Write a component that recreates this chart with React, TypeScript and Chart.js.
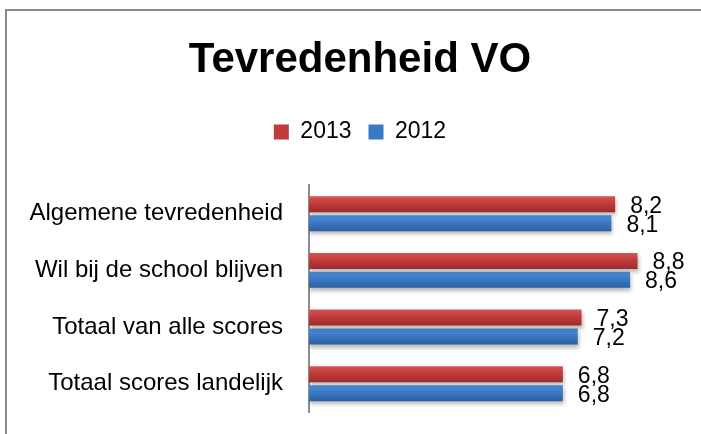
import React, { useEffect, useRef } from "react";
import { Chart, registerables } from "chart.js";

Chart.register(...registerables);

const categories = [
  "Algemene tevredenheid",
  "Wil bij de school blijven",
  "Totaal van alle scores",
  "Totaal scores landelijk",
];
const seriesNames = ["2013", "2012"];
const values2013 = [8.2, 8.8, 7.3, 6.8];
const values2012 = [8.1, 8.6, 7.2, 6.8];

const CAT_PCT = 0.67;
const BAR_PCT = 0.842;

const palettes = [
  { top: "#d65452", mid: "#c23b3b", bottom: "#9c2b2b", solid: "#c23b3b" },
  { top: "#4f8fd9", mid: "#3b79c6", bottom: "#2d5f9f", solid: "#3b79c6" },
];

function barGradient(ctx: any) {
  const chart = ctx.chart;
  const pal = palettes[ctx.datasetIndex] || palettes[0];
  const area = chart.chartArea;
  const yScale = chart.scales && chart.scales.y;
  if (!area || !yScale || ctx.dataIndex === undefined) return pal.solid;
  const catH = (area.bottom - area.top) / categories.length;
  const slot = (catH * CAT_PCT) / 2;
  const th = slot * BAR_PCT;
  const center = yScale.getPixelForValue(ctx.dataIndex) + (ctx.datasetIndex === 0 ? -slot / 2 : slot / 2);
  const y0 = center - th / 2;
  const y1 = center + th / 2;
  if (!isFinite(y0) || !isFinite(y1)) return pal.solid;
  const g = chart.ctx.createLinearGradient(0, y0, 0, y1);
  g.addColorStop(0, pal.top);
  g.addColorStop(0.45, pal.mid);
  g.addColorStop(1, pal.bottom);
  return g;
}

const shadowPlugin = {
  id: "barShadow",
  beforeDatasetsDraw(chart: any) {
    const c = chart.ctx;
    c.save();
    c.shadowColor = "rgba(0,0,0,0.28)";
    c.shadowBlur = 4;
    c.shadowOffsetX = 1;
    c.shadowOffsetY = 3;
  },
  afterDatasetsDraw(chart: any) {
    chart.ctx.restore();
  },
};

const labelPlugin = {
  id: "valueLabels",
  afterDraw(chart: any) {
    const c = chart.ctx;
    c.save();
    c.font = "23px 'Liberation Sans', Arial, sans-serif";
    c.fillStyle = "#000";
    c.textAlign = "left";
    c.textBaseline = "middle";
    chart.data.datasets.forEach((ds: any, di: number) => {
      const meta = chart.getDatasetMeta(di);
      meta.data.forEach((bar: any, i: number) => {
        const v = ds.data[i];
        const txt = String(v.toFixed(1)).replace(".", ",");
        c.fillText(txt, bar.x + 15, bar.y + 2);
      });
    });
    c.restore();
  },
};

export default function App() {
  const ref = useRef<HTMLCanvasElement | null>(null);

  useEffect(() => {
    if (!ref.current) return;
    Chart.defaults.font.family = "'Liberation Sans', Arial, sans-serif";
    Chart.defaults.color = "#000";
    const chart = new Chart(ref.current, {
      type: "bar",
      data: {
        labels: categories,
        datasets: [
          {
            label: seriesNames[0],
            data: values2013,
            backgroundColor: barGradient as any,
            borderWidth: 0,
            categoryPercentage: CAT_PCT,
            barPercentage: BAR_PCT,
          },
          {
            label: seriesNames[1],
            data: values2012,
            backgroundColor: barGradient as any,
            borderWidth: 0,
            categoryPercentage: CAT_PCT,
            barPercentage: BAR_PCT,
          },
        ],
      },
      options: {
        indexAxis: "y",
        responsive: false,
        animation: false,
        layout: { padding: { left: 19, right: 0, top: 0, bottom: 22 } },
        plugins: {
          title: {
            display: true,
            text: "Tevredenheid VO",
            color: "#000",
            font: { size: 42, weight: "bold" },
            padding: { top: 35, bottom: 18 },
          },
          legend: {
            display: true,
            position: "top",
            labels: {
              boxWidth: 15,
              boxHeight: 15,
              padding: 17,
              color: "#000",
              font: { size: 23 },
              generateLabels: (ch: any) =>
                ch.data.datasets.map((ds: any, i: number) => ({
                  text: ds.label,
                  fillStyle: palettes[i].solid,
                  strokeStyle: palettes[i].solid,
                  lineWidth: 0,
                  hidden: false,
                  datasetIndex: i,
                })),
            },
          },
          tooltip: { enabled: false },
        },
        scales: {
          x: {
            position: "top",
            min: 0,
            max: 10.5,
            display: true,
            grid: { display: false, drawTicks: false },
            border: { display: false },
            ticks: { display: false },
            afterFit: (s: any) => {
              s.height = 32;
              s.paddingLeft = 0;
              s.paddingRight = 0;
            },
          },
          y: {
            grid: { display: false, drawTicks: false },
            border: { display: true, color: "#8c8c8c", width: 2 },
            ticks: { padding: 26, color: "#000", font: { size: 24 } },
            afterFit: (s: any) => {
              s.width = 290;
              s.paddingTop = 0;
              s.paddingBottom = 0;
            },
          },
        },
      },
      plugins: [shadowPlugin, labelPlugin],
    });
    return () => chart.destroy();
  }, []);

  return (
    <div style={{ position: "fixed", left: 0, top: 0, width: 701, height: 434, overflow: "hidden", background: "#fff" }}>
      <div
        style={{
          position: "absolute",
          left: 5,
          top: 9,
          width: 800,
          height: 500,
          borderTop: "2px solid #8a8a8a",
          borderLeft: "2px solid #8a8a8a",
        }}
      />
      <canvas ref={ref} width={701} height={434} style={{ position: "absolute", left: 0, top: 0 }} />
    </div>
  );
}
